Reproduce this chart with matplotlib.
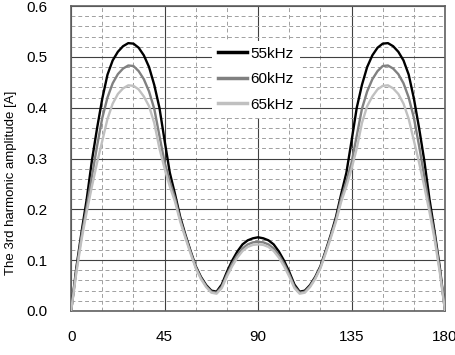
import numpy as np
import matplotlib.pyplot as plt
from matplotlib.ticker import MultipleLocator

plt.rcParams['font.family'] = ['Liberation Sans', 'DejaVu Sans']
plt.rcParams['font.size'] = 11

# electrical angle [deg], 2.5 deg steps from 0 to 180
angle = np.arange(0, 180.1, 2.5)

# 3rd harmonic amplitude [A]
amp_55 = [0.000, 0.085, 0.155, 0.220, 0.296, 0.360, 0.418, 0.465, 0.493, 0.510, 0.521, 0.527,
          0.526, 0.518, 0.503, 0.480, 0.445, 0.400, 0.335, 0.272, 0.230, 0.185, 0.150, 0.118,
          0.088, 0.067, 0.051, 0.040, 0.038, 0.052, 0.077, 0.099, 0.117, 0.131, 0.139, 0.143,
          0.145,
          0.143, 0.139, 0.131, 0.117, 0.099, 0.077, 0.052, 0.038, 0.040, 0.051, 0.067, 0.088,
          0.118, 0.150, 0.185, 0.230, 0.272, 0.335, 0.400, 0.445, 0.480, 0.503, 0.518, 0.526,
          0.527, 0.521, 0.510, 0.493, 0.465, 0.418, 0.360, 0.296, 0.220, 0.155, 0.085, 0.000]
amp_60 = [0.000, 0.080, 0.148, 0.205, 0.265, 0.325, 0.380, 0.420, 0.448, 0.466, 0.477, 0.483,
          0.482, 0.472, 0.456, 0.432, 0.398, 0.345, 0.292, 0.255, 0.222, 0.180, 0.147, 0.116,
          0.086, 0.065, 0.049, 0.038, 0.036, 0.048, 0.072, 0.093, 0.110, 0.123, 0.131, 0.135,
          0.136,
          0.135, 0.131, 0.123, 0.110, 0.093, 0.072, 0.048, 0.036, 0.038, 0.049, 0.065, 0.086,
          0.116, 0.147, 0.180, 0.222, 0.255, 0.292, 0.345, 0.398, 0.432, 0.456, 0.472, 0.482,
          0.483, 0.477, 0.466, 0.448, 0.420, 0.380, 0.325, 0.265, 0.205, 0.148, 0.080, 0.000]
amp_65 = [0.000, 0.075, 0.140, 0.195, 0.245, 0.292, 0.335, 0.378, 0.408, 0.427, 0.438, 0.444,
          0.443, 0.436, 0.422, 0.403, 0.370, 0.320, 0.280, 0.245, 0.215, 0.176, 0.144, 0.113,
          0.084, 0.063, 0.047, 0.036, 0.034, 0.045, 0.068, 0.088, 0.105, 0.118, 0.126, 0.130,
          0.131,
          0.130, 0.126, 0.118, 0.105, 0.088, 0.068, 0.045, 0.034, 0.036, 0.047, 0.063, 0.084,
          0.113, 0.144, 0.176, 0.215, 0.245, 0.280, 0.320, 0.370, 0.403, 0.422, 0.436, 0.443,
          0.444, 0.438, 0.427, 0.408, 0.378, 0.335, 0.292, 0.245, 0.195, 0.140, 0.075, 0.000]

labels = ['55kHz', '60kHz', '65kHz']
colors = ['#000000', '#808080', '#c0c0c0']

fig = plt.figure(figsize=(4.56, 3.55), dpi=100)
ax = fig.add_axes([0.156, 0.124, 0.82, 0.859])

for y, lab, c in zip([amp_55, amp_60, amp_65], labels, colors):
    ax.plot(angle, y, color=c, lw=1.7, label=lab, zorder=3)

ax.set_xlim(0, 180)
ax.set_ylim(0, 0.6)
ax.xaxis.set_major_locator(MultipleLocator(45))
ax.xaxis.set_minor_locator(MultipleLocator(15))
ax.yaxis.set_major_locator(MultipleLocator(0.1))
ax.yaxis.set_minor_locator(MultipleLocator(0.02))
ax.yaxis.set_major_formatter(plt.FormatStrFormatter('%.1f'))

ax.grid(which='major', color='#404040', lw=0.8, ls='-')
ax.grid(which='minor', color='#a0a0a0', lw=0.7, ls=(0, (4, 3)))
ax.tick_params(which='both', length=0)
ax.tick_params(axis='x', pad=14)
ax.tick_params(axis='y', pad=17)
for s in ax.spines.values():
    s.set_color('#606060')
    s.set_linewidth(1.2)

ax.set_ylabel('The 3rd harmonic amplitude [A]', fontsize=9.5)
ax.yaxis.set_label_coords(-0.146, 0.42)

leg = ax.legend(loc='upper left', bbox_to_anchor=(0.357, 0.912), frameon=True, fancybox=False,
                edgecolor='none', framealpha=1, handlelength=1.9, handletextpad=0.2,
                labelspacing=0.75, borderpad=0.4)
for h in leg.get_lines():
    h.set_linewidth(2.5)

fig.savefig('out.png', dpi=100)
